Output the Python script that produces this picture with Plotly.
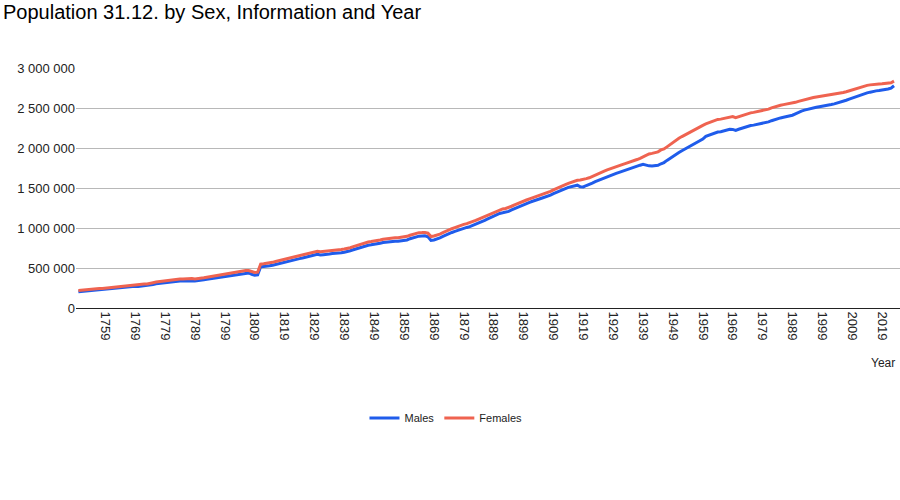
import plotly.graph_objects as go

years = list(range(1750, 2024))

males = [
    203000, 207000, 211000, 214000, 218000, 222000, 226000, 226000, 228000, 232000,  # 1750-1759
    237000, 241000, 243000, 247000, 251000, 256000, 261000, 267000, 271000, 272000,  # 1760-1769
    270000, 274000, 279000, 277000, 282000, 294000, 302000, 307000, 313000, 318000,  # 1770-1779
    320000, 324000, 328000, 333000, 336000, 336000, 340000, 346000, 341000, 337000,  # 1780-1789
    340000, 345000, 352000, 359000, 365000, 371000, 377000, 384000, 390000, 395000,  # 1790-1799
    402000, 409000, 416000, 423000, 428000, 435000, 437000, 438000, 422000, 410000,  # 1800-1809
    415000, 515000, 519000, 521000, 527000, 535000, 545000, 555000, 562000, 567000,  # 1810-1819
    576000, 586000, 596000, 606000, 617000, 625000, 632000, 641000, 651000, 662000,  # 1820-1829
    672000, 663000, 667000, 668000, 675000, 680000, 682000, 686000, 692000, 698000,  # 1830-1839
    703000, 716000, 728000, 741000, 755000, 767000, 778000, 785000, 790000, 794000,  # 1840-1849
    798000, 810000, 818000, 824000, 830000, 832000, 835000, 835000, 838000, 847000,  # 1850-1859
    851000, 866000, 878000, 891000, 898000, 900000, 902000, 890000, 844000, 851000,  # 1860-1869
    860000, 876000, 894000, 913000, 930000, 944000, 958000, 972000, 986000, 998000,  # 1870-1879
    1007000, 1017000, 1031000, 1047000, 1064000, 1080000, 1096000, 1114000, 1131000, 1148000,  # 1880-1889
    1167000, 1182000, 1190000, 1196000, 1208000, 1226000, 1243000, 1261000, 1279000, 1293000,  # 1890-1899
    1306000, 1320000, 1334000, 1343000, 1359000, 1372000, 1384000, 1397000, 1411000, 1430000,  # 1900-1909
    1448000, 1464000, 1480000, 1493000, 1508000, 1519000, 1529000, 1535000, 1514000, 1513000,  # 1910-1919
    1531000, 1542000, 1561000, 1580000, 1596000, 1609000, 1625000, 1640000, 1655000, 1670000,  # 1920-1929
    1683000, 1696000, 1710000, 1721000, 1733000, 1746000, 1758000, 1771000, 1785000, 1796000,  # 1930-1939
    1783000, 1777000, 1775000, 1777000, 1783000, 1803000, 1818000, 1845000, 1871000, 1896000,  # 1940-1949
    1926000, 1943000, 1966000, 1987000, 2009000, 2030000, 2054000, 2075000, 2094000, 2112000,  # 1950-1959
    2145000, 2160000, 2174000, 2190000, 2199000, 2203000, 2211000, 2224000, 2235000, 2232000,  # 1960-1969
    2220000, 2234000, 2248000, 2261000, 2272000, 2281000, 2286000, 2294000, 2299000, 2306000,  # 1970-1979
    2314000, 2326000, 2341000, 2355000, 2367000, 2376000, 2384000, 2391000, 2399000, 2410000,  # 1980-1989
    2427000, 2446000, 2461000, 2473000, 2484000, 2493000, 2501000, 2509000, 2516000, 2521000,  # 1990-1999
    2529000, 2537000, 2543000, 2551000, 2561000, 2572000, 2584000, 2597000, 2611000, 2625000,  # 2000-2009
    2638000, 2652000, 2665000, 2678000, 2689000, 2698000, 2708000, 2714000, 2718000, 2722000,  # 2010-2019
    2728000, 2737000, 2748000, 2778000,  # 2020-2023
]

females = [
    218000, 223000, 227000, 230000, 234000, 239000, 243000, 244000, 245000, 249000,  # 1750-1759
    254000, 259000, 261000, 266000, 270000, 275000, 281000, 286000, 291000, 292000,  # 1760-1769
    291000, 294000, 300000, 299000, 304000, 316000, 325000, 330000, 337000, 342000,  # 1770-1779
    344000, 349000, 352000, 357000, 361000, 362000, 365000, 371000, 368000, 363000,  # 1780-1789
    366000, 371000, 378000, 385000, 392000, 398000, 404000, 411000, 418000, 423000,  # 1790-1799
    431000, 437000, 444000, 451000, 458000, 465000, 468000, 469000, 458000, 445000,  # 1800-1809
    448000, 548000, 552000, 556000, 562000, 571000, 582000, 591000, 598000, 603000,  # 1810-1819
    611000, 622000, 632000, 643000, 653000, 662000, 669000, 679000, 689000, 700000,  # 1820-1829
    710000, 704000, 707000, 708000, 715000, 720000, 722000, 726000, 732000, 738000,  # 1830-1839
    743000, 754000, 767000, 779000, 792000, 805000, 817000, 825000, 830000, 835000,  # 1840-1849
    839000, 850000, 859000, 866000, 873000, 876000, 879000, 879000, 883000, 892000,  # 1850-1859
    896000, 909000, 922000, 935000, 942000, 943000, 945000, 935000, 893000, 900000,  # 1860-1869
    909000, 924000, 941000, 960000, 977000, 991000, 1004000, 1019000, 1033000, 1045000,  # 1870-1879
    1054000, 1065000, 1079000, 1095000, 1112000, 1128000, 1144000, 1161000, 1179000, 1195000,  # 1880-1889
    1213000, 1229000, 1238000, 1244000, 1255000, 1272000, 1289000, 1306000, 1324000, 1337000,  # 1890-1899
    1350000, 1364000, 1377000, 1388000, 1403000, 1416000, 1428000, 1442000, 1457000, 1476000,  # 1900-1909
    1495000, 1513000, 1529000, 1543000, 1558000, 1573000, 1586000, 1596000, 1599000, 1605000,  # 1910-1919
    1617000, 1628000, 1646000, 1665000, 1681000, 1695000, 1711000, 1726000, 1741000, 1755000,  # 1920-1929
    1768000, 1780000, 1793000, 1805000, 1816000, 1830000, 1843000, 1856000, 1871000, 1890000,  # 1930-1939
    1913000, 1925000, 1933000, 1944000, 1952000, 1976000, 1988000, 2014000, 2041000, 2067000,  # 1940-1949
    2104000, 2121000, 2143000, 2164000, 2185000, 2205000, 2228000, 2249000, 2266000, 2283000,  # 1950-1959
    2301000, 2317000, 2332000, 2348000, 2357000, 2361000, 2370000, 2382000, 2391000, 2392000,  # 1960-1969
    2378000, 2392000, 2405000, 2418000, 2430000, 2439000, 2445000, 2453000, 2459000, 2465000,  # 1970-1979
    2474000, 2486000, 2501000, 2515000, 2527000, 2535000, 2542000, 2548000, 2555000, 2564000,  # 1980-1989
    2571000, 2583000, 2594000, 2605000, 2615000, 2624000, 2631000, 2638000, 2644000, 2650000,  # 1990-1999
    2652000, 2658000, 2663000, 2669000, 2676000, 2684000, 2693000, 2703000, 2715000, 2726000,  # 2000-2009
    2737000, 2749000, 2762000, 2773000, 2783000, 2789000, 2795000, 2799000, 2800000, 2803000,  # 2010-2019
    2806000, 2811000, 2816000, 2836000,  # 2020-2023
]

tick_years = [1759, 1769, 1779, 1789, 1799, 1809, 1819, 1829, 1839, 1849, 1859, 1869, 1879,
              1889, 1899, 1909, 1919, 1929, 1939, 1949, 1959, 1969, 1979, 1989, 1999, 2009, 2019]
y_ticks = [0, 500000, 1000000, 1500000, 2000000, 2500000, 3000000]

FONT = "Liberation Sans, Arial, sans-serif"

fig = go.Figure()
fig.add_trace(go.Scatter(x=years, y=males, mode="lines", name="Males",
                         line=dict(color="#1f5ceb", width=3)))
fig.add_trace(go.Scatter(x=years, y=females, mode="lines", name="Females",
                         line=dict(color="#ef6350", width=3)))

fig.update_layout(
    width=900, height=500,
    paper_bgcolor="white", plot_bgcolor="white",
    separators=". ",
    font=dict(family=FONT, size=13, color="#222222"),
    margin=dict(l=76, r=0, t=68, b=192),
    title=dict(text="Population 31.12. by Sex, Information and Year",
               font=dict(family=FONT, size=20, color="#000000"),
               x=3 / 900, xref="container", xanchor="left",
               y=1 - 12 / 500, yref="container", yanchor="middle"),
    showlegend=True,
    legend=dict(orientation="h", x=0.449, xanchor="center", y=-0.458, yanchor="middle",
                font=dict(family=FONT, size=11, color="#222222"),
                bgcolor="rgba(0,0,0,0)"),
    xaxis=dict(range=[1749.2, 2025.0], tickmode="array", tickvals=tick_years,
               ticktext=[str(t) for t in tick_years], tickangle=90,
               showgrid=False, zeroline=False, showline=True, linecolor="#222222", linewidth=1,
               ticks="", tickfont=dict(size=13, color="#222222")),
    yaxis=dict(range=[0, 3000000], tickmode="array", tickvals=y_ticks, tickformat=",d",
               showgrid=True, gridcolor="#b8b8b8", gridwidth=1, zeroline=False,
               showline=False, ticks="", tickfont=dict(size=13, color="#222222")),
    annotations=[dict(text="Year", xref="paper", yref="paper", x=(897 - 76) / 824,
                      y=(308 - 363) / 240, xanchor="right", yanchor="middle", showarrow=False,
                      font=dict(family=FONT, size=12, color="#222222"))],
)

fig.write_html("out.html", config={"displayModeBar": False},
               post_script="document.body.style.margin='0';document.body.style.overflow='hidden';")
